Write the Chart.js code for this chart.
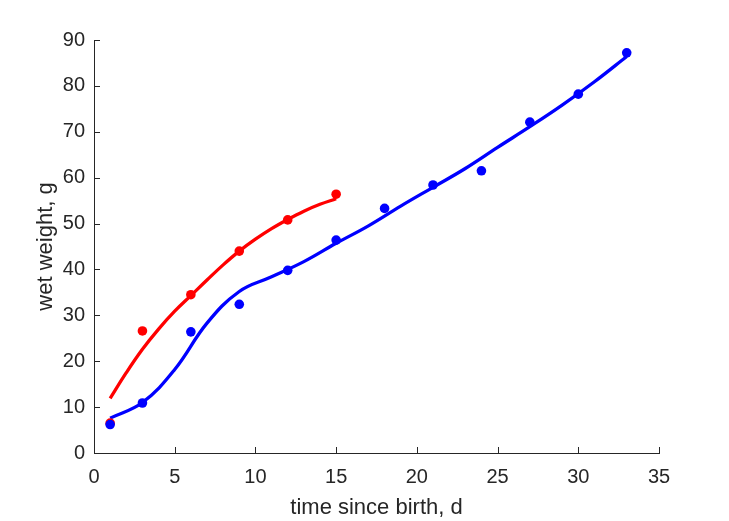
<!DOCTYPE html>
<html>
<head>
<meta charset="utf-8">
<script src="https://cdn.jsdelivr.net/npm/chart.js@4/dist/chart.umd.min.js"></script>
<style>
  html, body { margin: 0; padding: 0; background: #fff; }
  #wrap { width: 729px; height: 521px; }
</style>
</head>
<body>
<div id="wrap"><canvas id="grafico"></canvas></div>
<script>
// ---- dados ----
const diasAzul  = [1, 3, 6, 9, 12, 15, 18, 21, 24, 27, 30, 33];
const pesoAzul  = [6.2, 10.9, 26.4, 32.4, 39.8, 46.4, 53.3, 58.4, 61.5, 72.1, 78.2, 87.2];
const diasVerm  = [1, 3, 6, 9, 12, 15];
const pesoVerm  = [6.5, 26.6, 34.5, 44.0, 50.8, 56.4];

// curvas ajustadas (amostras)
const curvaAzulX = [1, 3, 5, 7, 9, 11, 13, 15, 17, 19, 21, 23, 25, 27, 29, 31, 33];
const curvaAzulY = [7.6, 11.0, 18.2, 28.3, 35.2, 38.4, 41.7, 45.7, 49.5, 53.8, 57.9, 62.0, 66.6, 71.1, 75.8, 80.9, 86.4];
const curvaVermX = [1, 2, 3, 4, 5, 6, 7, 8, 9, 10, 11, 12, 13, 14, 15];
const curvaVermY = [11.9, 17.5, 22.6, 27.0, 30.9, 34.3, 37.7, 41.0, 44.0, 46.6, 48.9, 50.9, 52.7, 54.2, 55.4];

const ticksX = [0, 5, 10, 15, 20, 25, 30, 35];
const ticksY = [0, 10, 20, 30, 40, 50, 60, 70, 80, 90];

const COR_EIXO = '#262626';
const FONTE = "'Liberation Sans', Arial, sans-serif";

const pares = (xs, ys) => xs.map((x, i) => ({ x: x, y: ys[i] }));

// ticks para dentro, estilo MATLAB
const ticksInternos = {
    id: 'ticksInternos',
    afterDraw(chart) {
        const { ctx, chartArea, scales } = chart;
        ctx.save();
        ctx.strokeStyle = COR_EIXO;
        ctx.lineWidth = 1;
        ctx.beginPath();
        ticksX.forEach(v => {
            const px = Math.round(scales.x.getPixelForValue(v)) + 0.5;
            ctx.moveTo(px, chartArea.bottom);
            ctx.lineTo(px, chartArea.bottom - 6);
        });
        ticksY.forEach(v => {
            const py = Math.round(scales.y.getPixelForValue(v)) + 0.5;
            ctx.moveTo(chartArea.left, py);
            ctx.lineTo(chartArea.left + 6, py);
        });
        ctx.stroke();
        ctx.restore();
    }
};

const ctx = document.getElementById('grafico').getContext('2d');
new Chart(ctx, {
    type: 'scatter',
    data: {
        datasets: [
            {
                data: pares(diasAzul, pesoAzul),
                backgroundColor: '#0000ff', borderColor: '#0000ff',
                pointRadius: 4.8, borderWidth: 0, showLine: false, order: 0
            },
            {
                data: pares(diasVerm, pesoVerm),
                backgroundColor: '#ff0000', borderColor: '#ff0000',
                pointRadius: 4.8, borderWidth: 0, showLine: false, order: 1
            },
            {
                data: pares(curvaAzulX, curvaAzulY),
                borderColor: '#0000ff', borderWidth: 3.3,
                pointRadius: 0, showLine: true, tension: 0.4, order: 2
            },
            {
                data: pares(curvaVermX, curvaVermY),
                borderColor: '#ff0000', borderWidth: 3.3,
                pointRadius: 0, showLine: true, tension: 0.4, order: 3
            }
        ]
    },
    options: {
        responsive: true,
        maintainAspectRatio: false,
        animation: false,
        layout: { padding: { left: 0, top: 40, right: 70, bottom: 0 } },
        plugins: { legend: { display: false }, tooltip: { enabled: false } },
        scales: {
            x: {
                type: 'linear', min: 0, max: 35,
                afterBuildTicks: s => { s.ticks = ticksX.map(v => ({ value: v })); },
                afterFit: s => { s.height = 68; },
                grid: { display: false, drawTicks: false },
                border: { display: true, color: COR_EIXO, width: 1 },
                ticks: { color: COR_EIXO, font: { family: FONTE, size: 20 }, padding: 12, maxRotation: 0 },
                title: { display: true, text: 'time since birth, d', color: COR_EIXO,
                         font: { family: FONTE, size: 22 }, padding: { top: 0, bottom: 0 } }
            },
            y: {
                type: 'linear', min: 0, max: 90,
                afterBuildTicks: s => { s.ticks = ticksY.map(v => ({ value: v })); },
                afterFit: s => { s.width = 94; },
                grid: { display: false, drawTicks: false },
                border: { display: true, color: COR_EIXO, width: 1 },
                ticks: { color: COR_EIXO, font: { family: FONTE, size: 20 }, padding: 9 },
                title: { display: true, text: 'wet weight, g', color: COR_EIXO,
                         font: { family: FONTE, size: 22 }, padding: { top: 33, bottom: 0 } }
            }
        }
    },
    plugins: [ticksInternos]
});
</script>
</body>
</html>
